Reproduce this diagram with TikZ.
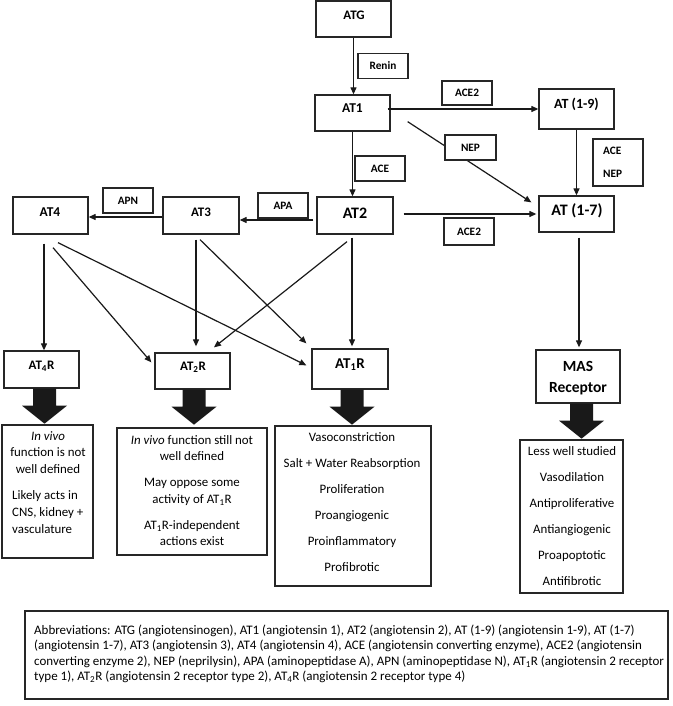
\documentclass[tikz,border=0pt]{standalone}
\usepackage{fontspec}
\setmainfont{Carlito}
\usetikzlibrary{arrows.meta,calc}
\begin{document}
\begin{tikzpicture}[x=1pt,y=-1pt,
  mbox/.style={draw=black!85, line width=1.3pt, fill=white, inner sep=0pt},
  ebox/.style={draw=black!85, line width=1.2pt, fill=white, inner sep=0pt,
    minimum width=50, minimum height=25, font=\bfseries\fontsize{11.3}{13}\selectfont},
  bft/.style={font=\bfseries\fontsize{#1}{#1}\selectfont, inner sep=0pt},
  tx/.style={font=\fontsize{12.9}{15}\selectfont, inner sep=0pt, anchor=mid},
  ab/.style={font=\fontsize{13}{15}\selectfont, inner sep=0pt, anchor=mid west},
  arr/.style={draw=black!90, line width=1.2pt, -{Triangle[length=7pt,width=6pt]}},
  fatarrow/.pic={\fill[black!90] (-11.5,0) -- (11.5,0) -- (11.5,17) -- (22.5,17) -- (0,35) -- (-22.5,17) -- (-11.5,17) -- cycle;}
]
\useasboundingbox (0,0) rectangle (672,706);

% main boxes
\node[mbox, minimum width=75, minimum height=36] (atg) at (353.5,19) {};
\node[mbox, minimum width=75, minimum height=36] (at1) at (352.5,113) {};
\node[mbox, minimum width=75, minimum height=40] (at19) at (576.5,109) {};
\node[mbox, minimum width=75, minimum height=36] (at17) at (576.5,214) {};
\node[mbox, minimum width=76, minimum height=37] (at2) at (355,215.5) {};
\node[mbox, minimum width=76, minimum height=37] (at3) at (201,215.5) {};
\node[mbox, minimum width=75, minimum height=37] (at4) at (50.5,215.5) {};
\node[mbox, minimum width=75, minimum height=37] (at4r) at (41.5,369.5) {};
\node[mbox, minimum width=75, minimum height=36] (at2r) at (192.5,371) {};
\node[mbox, minimum width=76, minimum height=40] (at1r) at (350,369) {};
\node[mbox, minimum width=84, minimum height=53] (mas) at (578,376.5) {};

% labels of main boxes
\node[bft=13] (atgT) at (354,15) {ATG};
\node[bft=13.5] (at1T) at (352.5,108) {AT1};
\node[bft=14] (at19T) at (576.5,104) {AT (1-9)};
\node[bft=16] (at17T) at (577,211) {AT (1-7)};
\node[bft=16] (at2T) at (355,213) {AT2};
\node[bft=13] (at3T) at (201,212) {AT3};
\node[bft=13.5] (at4T) at (50,212) {AT4};
\node[bft=13] (at4rT) at (41.5,366) {AT\textsubscript{4}R};
\node[bft=13] (at2rT) at (193,367) {AT\textsubscript{2}R};
\node[bft=15] (at1rT) at (350,365) {AT\textsubscript{1}R};
\node[bft=15.5, anchor=base] (masT) at (578,371.5) {MAS};
\node[bft=15.5, anchor=base] (recT) at (578,392.5) {Receptor};

% connectors
\draw[arr] (atg.south) -- (atg.south |- at1.north);
\coordinate (a19) at ($(at1.east)+(-3,-4)$);
\draw[arr] (a19) -- (a19 -| at19.west);
\coordinate (s1) at ($(at1.south east)+(17,-10)$);
\coordinate (e1) at ($(at17.north west)+(-7,7)$);
\draw[arr] (s1) -- (e1);
\draw[arr] (at19.south) -- (at17.north);
\draw[arr] (at1.south) -- (at1.south |- at2.north);
\coordinate (a2x) at ($(at2.east)+(10,-1.5)$);
\draw[arr, shorten >=2pt] (a2x) -- (a2x -| at17.west);
\coordinate (a23) at ($(at2.west)+(-3,4.5)$);
\draw[arr] (a23) -- (a23 -| at3.east);
\coordinate (a34) at ($(at3.west)+(0,1.5)$);
\draw[arr] (a34) -- (a34 -| at4.east);

\coordinate (b4) at ($(at4.south)+(-6.5,9)$);
\draw[arr] (b4) -- (b4 |- at4r.north);
\coordinate (b42) at ($(at4.south)+(2.5,13)$);
\coordinate (e42) at ($(at2r.north west)+(-3,10)$);
\draw[arr] (b42) -- (e42);
\coordinate (b41) at ($(at4.south)+(7.5,8)$);
\coordinate (e41) at ($(at1r.north west)+(-5,17)$);
\draw[arr] (b41) -- (e41);
\coordinate (b3) at ($(at3.south)+(-5,5)$);
\draw[arr, shorten >=6pt] (b3) -- (b3 |- at2r.north);
\coordinate (b31) at ($(at3.south)+(-1,5)$);
\coordinate (e31) at ($(at1r.north west)+(-5,-5)$);
\draw[arr] (b31) -- (e31);
\coordinate (b22) at ($(at2.south)+(-8,7)$);
\coordinate (e22) at ($(at2r.north)+(21.5,-5)$);
\draw[arr] (b22) -- (e22);
\coordinate (b21) at ($(at2.south)+(-3,3)$);
\draw[arr, shorten >=2pt] (b21) -- (b21 |- at1r.north);
\coordinate (b7) at ($(at17.south)+(2.5,5)$);
\draw[arr, shorten >=2pt] (b7) -- (b7 |- mas.north);

% enzyme boxes
\node[ebox] (renin) at (383,66) {Renin};
\node[ebox, minimum height=24] (ace2a) at (467,93) {ACE2};
\node[ebox, minimum width=51] (nep) at (470.5,147.5) {NEP};
\node[ebox] (ace) at (380,168.5) {ACE};
\node[ebox, minimum height=27] (ace2b) at (469,231.5) {ACE2};
\node[ebox] (apa) at (283,205.5) {APA};
\node[ebox] (apn) at (128,200.5) {APN};
\node[ebox, font={}, minimum height=47] (acenep) at (618,162.5) {};
\node[bft=11.3, anchor=mid west] (aceT) at (603,152) {ACE};
\node[bft=11.3, anchor=mid west] (nepT) at (603,175) {NEP};

% fat arrows
\pic at ($(at4r.south)+(3,0)$) {fatarrow};
\pic at ($(at2r.south)+(1.5,0)$) {fatarrow};
\pic at ($(at1r.south)+(2,0)$) {fatarrow};
\pic at ($(mas.south)+(3.5,0)$) {fatarrow};

% text boxes
\node[mbox, minimum width=91, minimum height=133] (t4) at (47.5,491.5) {};
\node[tx] (t4a) at (48,438) {\textit{In vivo}};
\node[tx] (t4b) at (48,454) {function is not};
\node[tx] (t4c) at (48,471) {well defined};
\node[tx, anchor=mid west] (t4d) at (12,497) {Likely acts in};
\node[tx, anchor=mid west] (t4e) at (12,514) {CNS, kidney +};
\node[tx, anchor=mid west] (t4f) at (12,531) {vasculature};

\node[mbox, minimum width=150, minimum height=127] (t2) at (192,491.5) {};
\node[tx] (t2a) at (192,442) {\textit{In vivo} function still not};
\node[tx] (t2b) at (192,458) {well defined};
\node[tx] (t2c) at (192,484) {May oppose some};
\node[tx] (t2d) at (192,501) {activity of AT\textsubscript{1}R};
\node[tx] (t2e) at (192,527) {AT\textsubscript{1}R-independent};
\node[tx] (t2f) at (192,543) {actions exist};

\node[mbox, minimum width=156, minimum height=160] (t1) at (353,506) {};
\node[tx] (t1a) at (352,439) {Vasoconstriction};
\node[tx] (t1b) at (352,465) {Salt + Water Reabsorption};
\node[tx] (t1c) at (352,491) {Proliferation};
\node[tx] (t1d) at (352,517) {Proangiogenic};
\node[tx] (t1e) at (352,543) {Proinflammatory};
\node[tx] (t1f) at (352,569) {Profibrotic};

\node[mbox, minimum width=103, minimum height=153] (tm) at (571.5,516.5) {};
\node[tx] (tma) at (572,453) {Less well studied};
\node[tx] (tmb) at (572,479) {Vasodilation};
\node[tx] (tmc) at (572,505) {Antiproliferative};
\node[tx] (tmd) at (572,531) {Antiangiogenic};
\node[tx] (tme) at (572,557) {Proapoptotic};
\node[tx] (tmf) at (572,583) {Antifibrotic};

% abbreviations
\node[mbox, minimum width=643, minimum height=88] (abbr) at (346.5,655) {};
\node[ab] (ab1) at (34,632) {Abbreviations: ATG (angiotensinogen), AT1 (angiotensin 1), AT2 (angiotensin 2), AT (1-9) (angiotensin 1-9), AT (1-7)};
\node[ab] (ab2) at (34,647.5) {(angiotensin 1-7), AT3 (angiotensin 3), AT4 (angiotensin 4), ACE (angiotensin converting enzyme), ACE2 (angiotensin};
\node[ab] (ab3) at (34,663) {converting enzyme 2), NEP (neprilysin), APA (aminopeptidase A), APN (aminopeptidase N), AT\textsubscript{1}R (angiotensin 2 receptor};
\node[ab] (ab4) at (34,678.5) {type 1), AT\textsubscript{2}R (angiotensin 2 receptor type 2), AT\textsubscript{4}R (angiotensin 2 receptor type 4)};
\end{tikzpicture}
\end{document}
